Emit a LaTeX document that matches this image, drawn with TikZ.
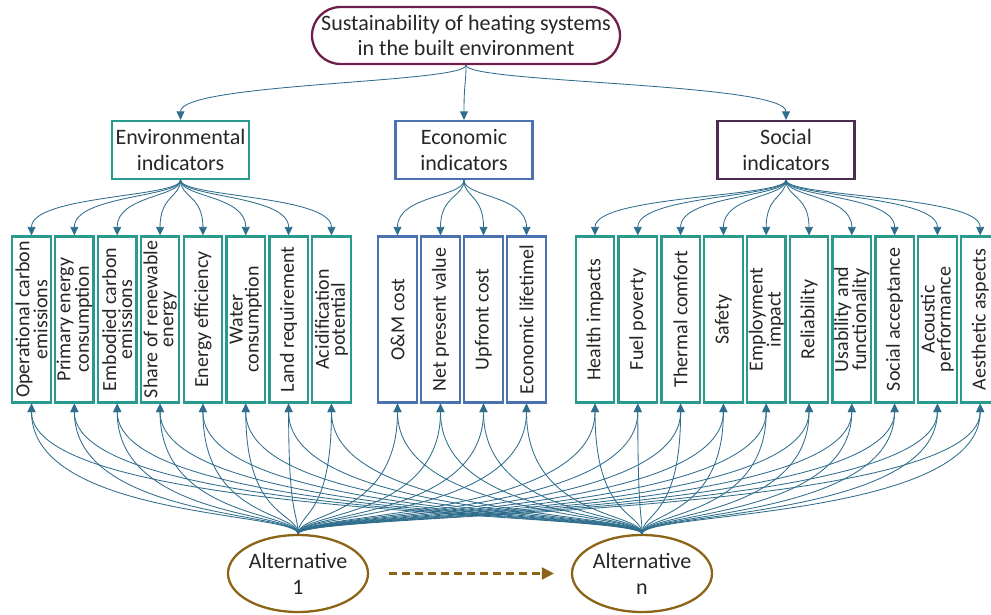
\documentclass[tikz,border=0pt]{standalone}
\usepackage{fontspec}
\setmainfont{Carlito}
\usetikzlibrary{arrows.meta,shapes.misc,shapes.geometric}

\definecolor{goalc}{HTML}{6E1E4A}
\definecolor{envc}{HTML}{2A9A8C}
\definecolor{ecoc}{HTML}{4A72B0}
\definecolor{socc}{HTML}{4B2D52}
\definecolor{altc}{HTML}{8C6418}
\definecolor{linkc}{HTML}{2F6D8C}
\definecolor{txtc}{HTML}{262626}

\tikzset{
  goalbox/.style={rounded rectangle, draw=goalc, line width=2.3pt, minimum width=312pt,
    minimum height=57pt, align=center, text=txtc, font=\fontsize{22}{25.5}\selectfont, inner sep=2pt},
  headbox/.style={rectangle, draw=#1, line width=2.3pt, minimum width=137pt,
    minimum height=58pt, align=center, text=txtc, font=\fontsize{22}{25.5}\selectfont, inner sep=2pt},
  indbox/.style={rectangle, draw=#1, line width=2.3pt, rotate=90, minimum width=166pt,
    minimum height=38.5pt, align=center, text=txtc, font=\fontsize{20}{16}\selectfont, inner sep=1pt},
  altbox/.style={ellipse, draw=altc, line width=2.3pt, minimum width=140pt,
    minimum height=77pt, align=center, text=txtc, font=\fontsize{22}{26}\selectfont, inner sep=0pt},
  link/.style={draw=linkc, line width=0.85pt, -{Triangle[length=8.5pt,width=8pt]}},
  dasharrow/.style={draw=altc, line width=2.3pt, dash pattern=on 8pt off 5pt,
    -{Triangle[length=12pt,width=12pt]}}
}

\begin{document}
\begin{tikzpicture}[x=1pt,y=-1pt]
\useasboundingbox (0,0) rectangle (991,615);

% goal and the three indicator groups
\node[goalbox] (goal) at (466,35.5) {Sustainability of heating systems\\in the built environment};
\node[headbox=envc] (env) at (180.5,150) {Environmental\\indicators};
\node[headbox=ecoc] (eco) at (464,150) {Economic\\indicators};
\node[headbox=socc] (soc) at (786,150) {Social\\indicators};

% environmental indicators
\foreach \i/\t in {0/{Operational carbon\\emissions},1/{Primary energy\\consumption},
  2/{Embodied carbon\\emissions},3/{Share of renewable\\energy},4/{Energy efficiency},
  5/{Water\\consumption},6/{Land requirement},7/{Acidification\\potential}}
  \node[indbox=envc] (e\i) at (31.5+42.85*\i,319.5) {\t};

% economic indicators
\foreach \i/\t in {0/{O\&M cost},1/{Net present value},2/{Upfront cost},3/{Economic lifetimel}}
  \node[indbox=ecoc] (c\i) at (397.5+43*\i,319.5) {\t};

% social indicators
\foreach \i/\t in {0/{Health impacts},1/{Fuel poverty},2/{Thermal comfort},3/{Safety},
  4/{Employment\\impact},5/{Reliability},6/{Usability and\\functionality},
  7/{Social acceptance},8/{Acoustic\\performance},9/{Aesthetic aspects}}
  \node[indbox=envc] (s\i) at (595+42.8*\i,319.5) {\t};

% alternatives
\node[altbox] (a1) at (298,573.5) {Alternative\\1};
\node[altbox] (an) at (642,573.5) {Alternative\\n};

% goal to groups
\foreach \h in {env,eco,soc}
  \draw[link] (goal.south) .. controls +(0,18) and +(0,-37) .. (\h.north);

% groups to indicators (node anchors follow the rotation: east is the top)
\foreach \i in {0,...,7}
  \draw[link] (env.south) .. controls +(0,17) and +(0,-40) .. (e\i.east);
\foreach \i in {0,...,3}
  \draw[link] (eco.south) .. controls +(0,17) and +(0,-40) .. (c\i.east);
\foreach \i in {0,...,9}
  \draw[link] (soc.south) .. controls +(0,17) and +(0,-40) .. (s\i.east);

% alternatives to every indicator
\foreach \a in {a1,an}{
  \foreach \i in {0,...,7}
    \draw[link] (\a.north) .. controls +(0,-22) and +(0,115) .. (e\i.west);
  \foreach \i in {0,...,3}
    \draw[link] (\a.north) .. controls +(0,-22) and +(0,115) .. (c\i.west);
  \foreach \i in {0,...,9}
    \draw[link] (\a.north) .. controls +(0,-22) and +(0,115) .. (s\i.west);
}

% from the first to the last alternative
\draw[dasharrow] ([xshift=20pt]a1.east) -- ([xshift=-17pt]an.west);
\end{tikzpicture}
\end{document}
